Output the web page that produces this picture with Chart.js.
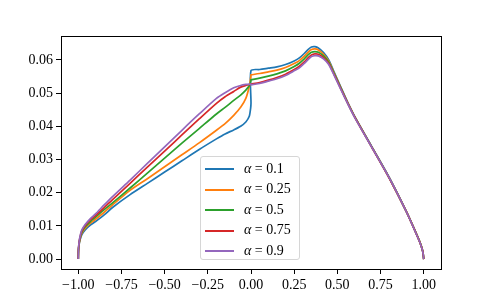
<!DOCTYPE html>
<html>
<head>
<meta charset="utf-8">
<script src="https://cdn.jsdelivr.net/npm/chart.js@4/dist/chart.umd.min.js"></script>
<style>
  body { margin: 0; background: #fff; }
  #wrap { position: relative; width: 490px; height: 303px; }
  #legend {
    position: absolute; left: 200px; top: 156px; width: 100px; height: 104px;
    border: 1px solid #d6d6d6; border-radius: 3px; background: rgba(255,255,255,0.85);
    font-family: "Liberation Serif", "DejaVu Serif", serif; font-size: 14px; padding-top: 2px;
    box-sizing: border-box;
  }
  .row { position: relative; height: 20.4px; line-height: 20.4px; }
  .swatch { position: absolute; left: 4px; top: 9.4px; width: 29px; height: 2px; }
  .lbl { position: absolute; left: 43px; top: 0; white-space: nowrap; }
</style>
</head>
<body>
<div id="wrap">
  <canvas id="chart" width="490" height="303"></canvas>
  <div id="legend"></div>
</div>
<script>
// x positions shared by all curves (x = 0 appears twice: left limit, then right value)
const xs = [
  -1, -0.999, -0.995, -0.99, -0.98, -0.96, -0.93, -0.9, -0.85, -0.8, -0.7, -0.6,
  -0.5, -0.4, -0.3, -0.2, -0.15, -0.1, -0.06, -0.03, -0.01, -0.002, 0,
  0, 0.05, 0.1, 0.15, 0.2, 0.25, 0.28, 0.31, 0.33, 0.35, 0.37, 0.39, 0.42,
  0.45, 0.48, 0.52, 0.56, 0.6, 0.7, 0.8, 0.9, 0.95, 0.98, 0.995, 1
];

const alphas = ['0.1', '0.25', '0.5', '0.75', '0.9'];

const yAlpha010 = [
  0, 0.0024, 0.0044, 0.0057, 0.0073, 0.0088, 0.0102, 0.0113, 0.0133, 0.0156, 0.0194, 0.0228,
  0.0262, 0.0296, 0.0330, 0.0362, 0.0377, 0.0389, 0.0400, 0.0413, 0.0430, 0.0455, 0.0470,
  0.0568, 0.0571, 0.0575, 0.0579, 0.0586, 0.0597, 0.0606, 0.0620, 0.0631, 0.0639, 0.0640, 0.0636, 0.0622,
  0.0600, 0.0565, 0.0518, 0.0472, 0.0430, 0.0338, 0.0246, 0.0143, 0.0085, 0.0048, 0.0022, 0
];
const yAlpha025 = [
  0, 0.0025, 0.0046, 0.0060, 0.0077, 0.0093, 0.0108, 0.0120, 0.0141, 0.0164, 0.0207, 0.0242,
  0.0278, 0.0314, 0.0350, 0.0388, 0.0408, 0.0433, 0.0457, 0.0484, 0.0520, 0.0545, 0.0555,
  0.0555, 0.0559, 0.0564, 0.0569, 0.0577, 0.0589, 0.0598, 0.0612, 0.0623, 0.0631, 0.0633, 0.0630, 0.0617,
  0.0596, 0.0562, 0.0516, 0.0471, 0.0429, 0.0337, 0.0245, 0.0143, 0.0085, 0.0048, 0.0022, 0
];
const yAlpha050 = [
  0, 0.0026, 0.0048, 0.0062, 0.0080, 0.0097, 0.0113, 0.0126, 0.0149, 0.0170, 0.0214, 0.0259,
  0.0304, 0.0349, 0.0393, 0.0437, 0.0457, 0.0478, 0.0494, 0.0509, 0.0522, 0.0533, 0.0540,
  0.0540, 0.0545, 0.0551, 0.0558, 0.0567, 0.0580, 0.0590, 0.0604, 0.0615, 0.0623, 0.0625, 0.0623, 0.0612,
  0.0593, 0.0560, 0.0515, 0.0470, 0.0429, 0.0337, 0.0245, 0.0142, 0.0085, 0.0048, 0.0022, 0
];
const yAlpha075 = [
  0, 0.0027, 0.0050, 0.0065, 0.0084, 0.0101, 0.0118, 0.0131, 0.0155, 0.0180, 0.0228, 0.0277,
  0.0325, 0.0374, 0.0422, 0.0469, 0.0489, 0.0505, 0.0518, 0.0523, 0.0526, 0.0527, 0.0527,
  0.0527, 0.0532, 0.0539, 0.0547, 0.0557, 0.0571, 0.0581, 0.0595, 0.0606, 0.0615, 0.0618, 0.0617, 0.0607,
  0.0589, 0.0557, 0.0513, 0.0469, 0.0428, 0.0336, 0.0244, 0.0142, 0.0084, 0.0047, 0.0022, 0
];
const yAlpha090 = [
  0, 0.0028, 0.0052, 0.0068, 0.0087, 0.0104, 0.0122, 0.0136, 0.0163, 0.0189, 0.0238, 0.0288,
  0.0338, 0.0388, 0.0437, 0.0484, 0.0501, 0.0516, 0.0523, 0.0526, 0.0527, 0.0527, 0.0527,
  0.0525, 0.0529, 0.0536, 0.0543, 0.0553, 0.0567, 0.0576, 0.0590, 0.0601, 0.0610, 0.0613, 0.0612, 0.0603,
  0.0586, 0.0555, 0.0511, 0.0468, 0.0427, 0.0336, 0.0245, 0.0142, 0.0084, 0.0047, 0.0021, 0
];

const series = [yAlpha010, yAlpha025, yAlpha050, yAlpha075, yAlpha090];
const colors = ['#1f77b4', '#ff7f0e', '#2ca02c', '#d62728', '#9467bd'];

const xTicks = [-1, -0.75, -0.5, -0.25, 0, 0.25, 0.5, 0.75, 1];
const yTicks = [0, 0.01, 0.02, 0.03, 0.04, 0.05, 0.06];

const FONT = { family: '"Liberation Serif", "DejaVu Serif", serif', size: 14 };

// Format tick numbers like matplotlib (two decimals, real minus sign)
function fmt(v) {
  return v.toFixed(2).replace('-', '\u2212');
}

// Draw the four spines around the plot area
const framePlugin = {
  id: 'frame',
  afterDraw(chart) {
    const a = chart.chartArea;
    const ctx = chart.ctx;
    ctx.save();
    ctx.strokeStyle = '#000';
    ctx.lineWidth = 1;
    ctx.strokeRect(Math.round(a.left) + 0.5, Math.round(a.top) + 0.5,
      Math.round(a.right - a.left), Math.round(a.bottom - a.top));
    ctx.restore();
  }
};

const datasets = series.map((ys, i) => ({
  label: 'α = ' + alphas[i],
  data: xs.map((x, j) => ({ x: x, y: ys[j] })),
  borderColor: colors[i],
  backgroundColor: colors[i],
  borderWidth: 1.7,
  showLine: true,
  pointRadius: 0,
  tension: 0.25,
  order: series.length - 1 - i
}));

const axisTicks = {
  color: '#000',
  font: FONT,
  padding: 3
};

const chart = new Chart(document.getElementById('chart'), {
  type: 'scatter',
  data: { datasets: datasets },
  options: {
    responsive: false,
    animation: false,
    devicePixelRatio: 1,
    layout: { padding: { left: 0, right: 49, top: 36, bottom: 0 } },
    plugins: {
      legend: { display: false },
      tooltip: { enabled: false }
    },
    scales: {
      x: {
        type: 'linear',
        min: -1.1,
        max: 1.1,
        border: { display: false },
        grid: { drawOnChartArea: false, drawTicks: true, tickLength: 5, tickColor: '#000', tickWidth: 1 },
        afterBuildTicks: (scale) => { scale.ticks = xTicks.map(v => ({ value: v })); },
        ticks: Object.assign({}, axisTicks, { maxRotation: 0, autoSkip: false, callback: (v) => fmt(v) }),
        afterFit: (scale) => { scale.height = 34; }
      },
      y: {
        type: 'linear',
        min: -0.0030,
        max: 0.0672,
        border: { display: false },
        grid: { drawOnChartArea: false, drawTicks: true, tickLength: 5, tickColor: '#000', tickWidth: 1 },
        afterBuildTicks: (scale) => { scale.ticks = yTicks.map(v => ({ value: v })); },
        ticks: Object.assign({}, axisTicks, { autoSkip: false, callback: (v) => fmt(v) }),
        afterFit: (scale) => { scale.width = 61; }
      }
    }
  },
  plugins: [framePlugin]
});

// Build the legend box from the chart's datasets
const legend = document.getElementById('legend');
chart.data.datasets.forEach((ds, i) => {
  const row = document.createElement('div');
  row.className = 'row';
  row.innerHTML = '<span class="swatch" style="background:' + ds.borderColor + '"></span>' +
    '<span class="lbl"><i>α</i> = ' + alphas[i] + '</span>';
  legend.appendChild(row);
});
</script>
</body>
</html>
